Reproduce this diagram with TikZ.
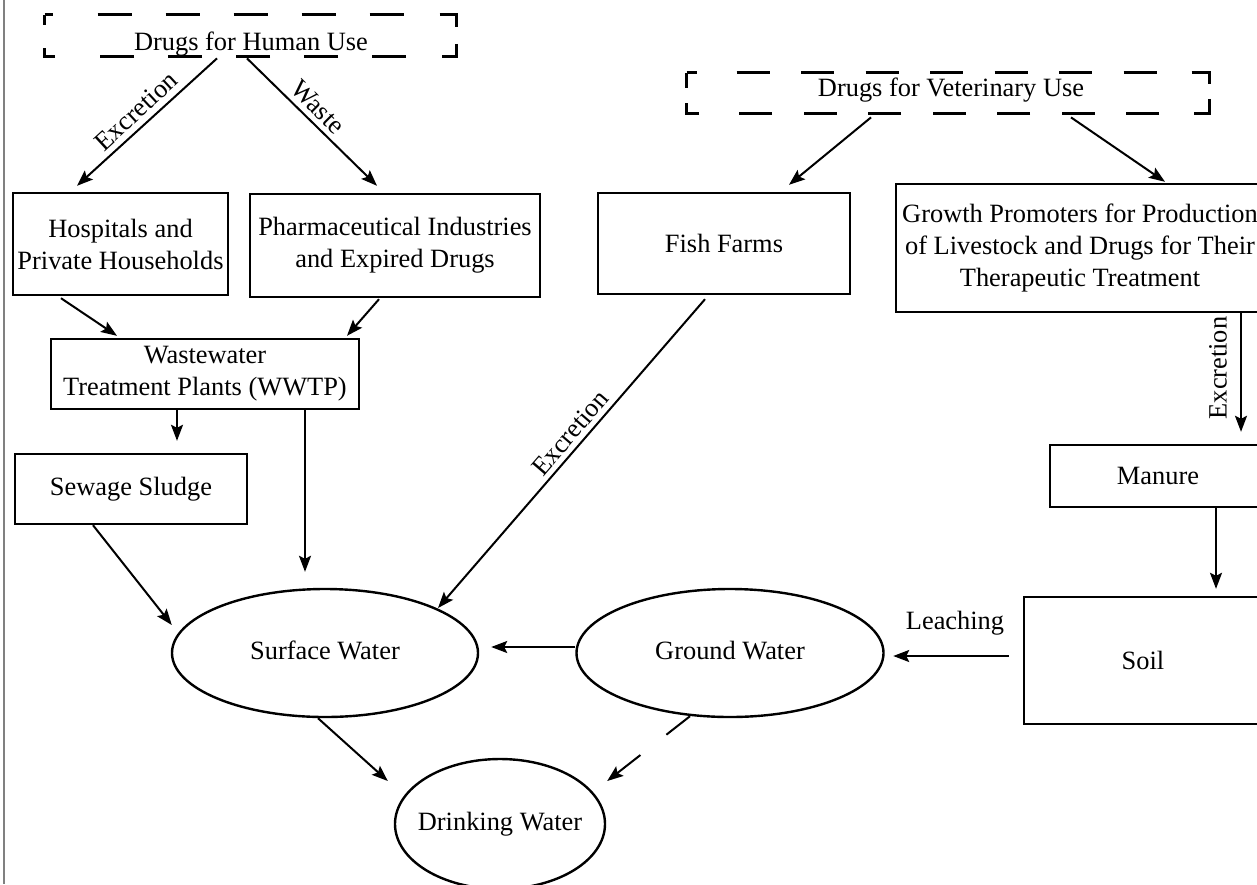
\documentclass[tikz,border=0pt]{standalone}
\usepackage{fontspec}
\setmainfont{Liberation Serif}
\usetikzlibrary{arrows.meta,shapes.geometric}
\newcommand\mainsz{\fontsize{13.2}{16}\selectfont}
\begin{document}
\begin{tikzpicture}[x=0.5pt,y=-0.5pt,
  box/.style={draw, line width=1.2pt, rectangle, inner sep=0pt, align=center, font=\mainsz},
  oval/.style={draw, line width=1.2pt, ellipse, inner sep=0pt, font=\mainsz},
  arr/.style={line width=1pt, -{Stealth[length=8pt,width=6pt,inset=1.5pt]}},
  lab/.style={inner sep=0pt, font=\mainsz},
  dbox/.style={line width=1.3pt, line join=miter}]
\useasboundingbox (0,0) rectangle (1257,884);
\draw[draw=gray, line width=1pt] (4,0) -- (4,884);

% dashed source boxes
\node[minimum width=205.5pt, minimum height=20.5pt, inner sep=0pt] (hum) at (250.5,35.5) {};
\draw[dbox, dash pattern=on 7.5pt off 22.5pt on 17pt off 17pt on 17pt off 17pt on 17pt off 17pt on 17pt off 17pt on 17pt off 18pt on 14.5pt off 8.5pt on 13.5pt off 18pt on 17pt off 17pt on 17pt off 17pt on 17pt off 17pt on 17pt off 17pt on 17pt off 22.5pt on 9.5pt off 11.5pt, dash phase=3.5pt]
  (hum.north west) -- (hum.north east) -- (hum.south east) -- (hum.south west) -- cycle;
\node[lab, anchor=base] (humt) at (251,50) {Drugs for Human Use};

\node[minimum width=261pt, minimum height=20pt, inner sep=0pt] (vet) at (948,93) {};
\draw[dbox, dash pattern=on 11pt off 20pt on 16.5pt off 15.75pt on 16.5pt off 15.75pt on 16.5pt off 15.75pt on 16.5pt off 15.75pt on 16.5pt off 15.75pt on 16.5pt off 15.75pt on 16.5pt off 17.5pt on 14.5pt off 7.5pt on 15pt off 17.5pt on 16.5pt off 15.75pt on 16.5pt off 15.75pt on 16.5pt off 15.75pt on 16.5pt off 15.75pt on 16.5pt off 15.75pt on 16.5pt off 15.75pt on 16.5pt off 20pt on 11.5pt off 7.5pt, dash phase=6pt]
  (vet.north west) -- (vet.north east) -- (vet.south east) -- (vet.south west) -- cycle;
\node[lab, anchor=base] (vett) at (951,96) {Drugs for Veterinary Use};

% boxes
\node[box, minimum width=107.5pt, minimum height=51pt] (hosp) at (120.5,244) {Hospitals and\\Private Households};
\node[box, minimum width=145pt, minimum height=51.5pt] (pharm) at (395,245.5) {Pharmaceutical Industries\\and Expired Drugs};
\node[box, minimum width=126pt, minimum height=50.5pt] (fish) at (724,243.5) {Fish Farms};
\node[box, minimum width=184pt, minimum height=64pt] (grow) at (1080,248) {Growth Promoters for Production\\of Livestock and Drugs for Their\\Therapeutic Treatment};
\node[box, minimum width=154pt, minimum height=35pt] (wwtp) at (205,374) {Wastewater\\Treatment Plants (WWTP)};
\node[box, minimum width=116pt, minimum height=35pt] (sew) at (131,489) {Sewage Sludge};
\node[box, minimum width=108pt, minimum height=31pt] (man) at (1158,476) {Manure};
\node[box, minimum width=119pt, minimum height=63.5pt] (soil) at (1143,660.5) {Soil};

% ellipses
\node[oval, minimum width=153pt, minimum height=64pt] (surf) at (325,653) {\makebox[0pt]{\raisebox{3pt}{Surface Water}}};
\node[oval, minimum width=153.5pt, minimum height=64pt] (gw) at (730,653) {\makebox[0pt]{\raisebox{3pt}{Ground Water}}};
\node[oval, minimum width=105pt, minimum height=65pt] (dw) at (500,824) {\makebox[0pt]{\raisebox{3pt}{Drinking Water}}};

% connectors
\draw[arr] ([shift={(-33.5,2)}]hum.south) -- ([shift={(-43.5,-6)}]hosp.north);
\draw[arr] ([shift={(-3.5,2)}]hum.south) -- ([shift={(-18,-7)}]pharm.north);
\draw[arr] ([shift={(-77,4)}]vet.south) -- ([shift={(65,-7)}]fish.north);
\draw[arr] ([shift={(123,4)}]vet.south) -- ([shift={(85,-1)}]grow.north);
\draw[arr] ([shift={(-59.5,2)}]hosp.south) -- ([shift={(-88,-2)}]wwtp.north);
\draw[arr] ([shift={(-16,1)}]pharm.south) -- ([shift={(142,-2)}]wwtp.north);
\draw[arr] ([shift={(-28,0)}]wwtp.south) -- ([shift={(46,-12)}]sew.north);
\draw[arr] ([shift={(100,0)}]wwtp.south) -- ([shift={(-20,-16)}]surf.north);
\draw[arr] ([shift={(-38,0)}]sew.south) -- ([shift={(1,-28)}]surf.west);
\draw[arr] ([shift={(-19,4)}]fish.south) -- ([shift={(113,-45)}]surf.center);
\draw[arr] ([shift={(0,-6)}]gw.west) -- ([shift={(12,-6)}]surf.east);
\draw[arr] ([shift={(-7,0)}]surf.south) -- ([shift={(-6,-43)}]dw.west);
\draw[arr, dash pattern=on 15pt off 16.5pt] ([shift={(-40,-2)}]gw.south) -- ([shift={(1,-43)}]dw.east);
\draw[arr] ([shift={(161,0)}]grow.south) -- ([shift={(83,-12)}]man.north);
\draw[arr] ([shift={(58,0)}]man.south) -- ([shift={(73,-7)}]soil.north);
\draw[arr] ([shift={(-14,-4.5)}]soil.west) -- ([shift={(8.5,3)}]gw.east);

% labels
\node[lab, rotate=42.7] (lexc1) at (136,111) {Excretion};
\node[lab, rotate=-44.8] (lwaste) at (318,107) {Waste};
\node[lab, rotate=49.3] (lexc2) at (570,433) {Excretion};
\node[lab, rotate=90] (lexc3) at (1218,368) {Excretion};
\node[lab] (lleach) at (955,623) {Leaching};
\end{tikzpicture}
\end{document}
